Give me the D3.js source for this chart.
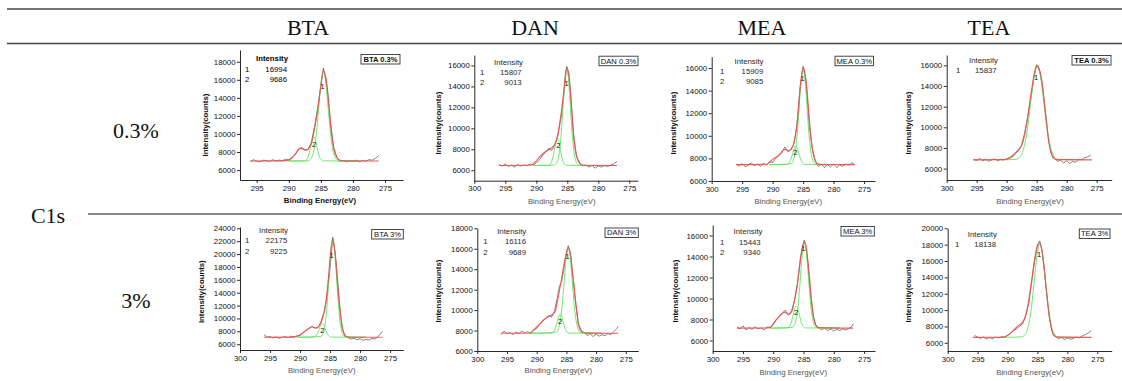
<!DOCTYPE html>
<html>
<head>
<meta charset="utf-8">
<script src="https://cdn.jsdelivr.net/npm/d3@7"></script>
<style>
  body { margin: 0; background: #fff; }
  svg { display: block; }
</style>
</head>
<body>
<div id="chart"></div>
<script>
// table headings
const columns = ['BTA', 'DAN', 'MEA', 'TEA'];
const rows = ['0.3%', '3%'];
const element = 'C1s';

// box label and fitted peak intensities for each panel (row by row)
const panelNames = ['BTA 0.3%', 'DAN 0.3%', 'MEA 0.3%', 'TEA 0.3%', 'BTA 3%', 'DAN 3%', 'MEA 3%', 'TEA 3%'];
const peakIntensity = [[16994, 9686], [15807, 9013], [15909, 9085], [15837], [22175, 9225], [16116, 9689], [15443, 9340], [18138]];

// axis ticks
const xTicks = [300, 295, 290, 285, 280, 275];
const yTicks1 = [6000, 8000, 10000, 12000, 14000, 16000, 18000];
const yTicks2 = [6000, 8000, 10000, 12000, 14000, 16000];
const yTicks3 = [6000, 8000, 10000, 12000, 14000, 16000, 18000, 20000, 22000, 24000];
const yTicks4 = [6000, 8000, 10000, 12000, 14000, 16000, 18000, 20000];

// ---- spectra: [binding energy eV, counts] ----
const btaLowRaw = [[296,6950],[295.5,7150],[295,7000],[294.5,6900],[294,7100],[293.5,7050],[293,6950],[292.5,7150],[292,7000],[291.5,7100],[291,7050],[290.5,7200],[290,7150],[289.5,7400],[289,7700],[288.5,8300],[288,8500],[287.5,8200],[287,8300],[286.5,9000],[286,10800],[285.5,12800],[285,15400],[284.6,17300],[284.3,16200],[284,15100],[283.5,11300],[283,8500],[282.5,7400],[282,6950],[281.5,7050],[281,6900],[280.5,7000],[280,6950],[279.5,7100],[279,6900],[278.5,7050],[278,7000],[277.5,7150],[277,7100],[276.5,7300],[276,7600]];
const btaLowFit = [[296,7000],[291,7020],[290,7100],[289.5,7350],[289,7750],[288.5,8250],[288.2,8400],[287.8,8350],[287.3,8200],[287,8300],[286.5,8900],[286,10500],[285.5,12700],[285,15300],[284.6,17000],[284.2,16200],[283.8,13600],[283.4,10500],[283,8400],[282.5,7400],[282,7080],[281.5,7020],[276,7000]];
const btaLowP1 = [[290,7000],[287.1,7020],[286.6,7210],[286.35,7520],[286.1,8130],[285.85,9180],[285.6,10760],[285.35,12740],[285.1,14780],[284.85,16300],[284.6,16900],[284.35,16300],[284.1,14780],[283.85,12740],[283.6,10760],[283.35,9180],[283.1,8130],[282.85,7520],[282.6,7210],[282.1,7020],[279,7000]];
const btaLowP2 = [[290,7000],[287.6,7015],[287.35,7080],[287.1,7280],[286.85,7760],[286.6,8540],[286.35,9350],[286.1,9700],[285.85,9350],[285.6,8540],[285.35,7760],[285.1,7280],[284.85,7080],[284.6,7015],[279,7000]];

const danLowRaw = [[296,6550],[295.5,6400],[295,6600],[294.5,6350],[294,6500],[293.5,6300],[293,6550],[292.5,6400],[292,6500],[291.5,6450],[291,6600],[290.5,6500],[290,6700],[289.5,7000],[289,7400],[288.5,7700],[288,8100],[287.5,7900],[287,8400],[286.5,9500],[286,11000],[285.5,13500],[285.1,15900],[284.75,15200],[284.5,13500],[284,9400],[283.5,7300],[283,6700],[282.5,6450],[282,6500],[281.5,6300],[281,6450],[280.5,6200],[280,6400],[279.5,6300],[279,6450],[278.5,6350],[278,6500],[277.5,6600],[277,6850]];
const danLowFit = [[296,6450],[291,6470],[290.5,6600],[290,6900],[289.5,7250],[289,7550],[288.5,7800],[288,7950],[287.5,8150],[287,8500],[286.5,9400],[286.2,10600],[285.8,12300],[285.5,14000],[285.1,15800],[284.8,15300],[284.5,13500],[284.2,11000],[283.9,8800],[283.5,7300],[283,6650],[282.5,6480],[282,6450],[277,6450]];
const danLowP1 = [[290.5,6450],[287.1,6480],[286.85,6570],[286.6,6840],[286.35,7470],[286.1,8700],[285.85,10630],[285.6,12950],[285.35,14920],[285.1,15700],[284.85,14920],[284.6,12950],[284.35,10630],[284.1,8700],[283.85,7470],[283.6,6840],[283.35,6570],[283.1,6480],[280,6450]];
const danLowP2 = [[290.5,6450],[288.1,6465],[287.85,6520],[287.6,6710],[287.35,7160],[287.1,7890],[286.85,8640],[286.6,8970],[286.35,8640],[286.1,7890],[285.85,7160],[285.6,6710],[285.35,6520],[285.1,6465],[280,6450]];

const meaLowRaw = [[296,7500],[295.5,7300],[295,7550],[294.5,7250],[294,7400],[293.5,7600],[293,7350],[292.5,7500],[292,7300],[291.5,7550],[291,7400],[290.5,7700],[290,7650],[289.5,8000],[289,8250],[288.5,8500],[288,9000],[287.5,8600],[287,8800],[286.5,9300],[286,11000],[285.5,14300],[285,16150],[284.5,14800],[284,11000],[283.5,8900],[283,7800],[282.5,7300],[282,7500],[281.5,7200],[281,7450],[280.5,7250],[280,7500],[279.5,7200],[279,7400],[278.5,7300],[278,7500],[277.5,7400],[277,7600],[276.7,7550]];
const meaLowFit = [[296,7450],[291,7480],[290.4,7700],[289.8,8000],[289.3,8150],[288.7,8450],[288.2,8750],[287.8,8800],[287.4,8650],[287,8800],[286.6,9200],[286.3,9900],[286,11000],[285.7,12800],[285.4,14700],[285,16000],[284.7,15600],[284.4,14300],[284.1,12300],[283.8,10300],[283.5,8900],[283.1,7900],[282.7,7550],[282.2,7460],[276.5,7450]];
const meaLowP1 = [[290.5,7450],[287,7510],[286.75,7640],[286.5,7980],[286.25,8680],[286,9920],[285.75,11680],[285.5,13660],[285.25,15270],[285,15900],[284.75,15270],[284.5,13660],[284.25,11680],[284,9920],[283.75,8680],[283.5,7980],[283.25,7640],[283,7510],[280,7450]];
const meaLowP2 = [[290.5,7450],[287.7,7470],[287.45,7520],[287.2,7670],[286.95,7990],[286.7,8450],[286.45,8900],[286.2,9100],[285.95,8900],[285.7,8450],[285.45,7990],[285.2,7670],[284.95,7520],[284.7,7470],[280,7450]];

const teaLowRaw = [[295.5,6900],[295,6800],[294.5,7000],[294,6750],[293.5,6900],[293,6700],[292.5,6850],[292,6950],[291.5,6750],[291,6900],[290.5,6850],[290,6950],[289.5,7100],[289,7300],[288.5,7550],[288,7900],[287.5,8300],[287,9500],[286.5,11000],[286,12800],[285.5,14700],[285,16050],[284.5,15400],[284,13900],[283.5,11300],[283,8700],[282.5,7400],[282,6950],[281.5,6700],[281,6800],[280.5,6550],[280,6750],[279.5,6500],[279,6700],[278.5,6600],[278,6900],[277.5,6850],[277,7050],[276.5,7150],[276,7300]];
const teaLowFit = [[295.6,6850],[290.5,6870],[289.5,7000],[289,7200],[288.5,7500],[288,7800],[287.5,8250],[287,9300],[286.7,10200],[286.3,11800],[285.8,13800],[285.4,15200],[285,16000],[284.6,15700],[284.2,14700],[283.8,12700],[283.4,10600],[283,8600],[282.6,7500],[282.2,7000],[281.6,6870],[275.8,6850]];
const teaLowP1 = [[291,6850],[288.4,6900],[287.9,7070],[287.4,7540],[286.9,8600],[286.4,10440],[285.9,12870],[285.4,15060],[284.9,15950],[284.4,15060],[283.9,12870],[283.4,10440],[282.9,8600],[282.4,7540],[281.9,7070],[281.4,6900],[278,6850]];

const btaHighRaw = [[296,7500],[295.5,7100],[295,7200],[294.5,6950],[294,7150],[293.5,6900],[293,7050],[292.5,7200],[292,7000],[291.5,7250],[291,7150],[290.5,7300],[290,7350],[289.5,7800],[289,8200],[288.5,8400],[288,8750],[287.5,8500],[287,8600],[286.5,9500],[286,11000],[285.5,13500],[285,17800],[284.55,22600],[284.1,19800],[283.7,15500],[283.3,11000],[283,8500],[282.5,7300],[282,7000],[281.5,6800],[281,6900],[280.5,6700],[280,6850],[279.5,6600],[279,6750],[278.5,6650],[278,6900],[277.5,6800],[277,7200],[276.5,7700],[276.3,8000]];
const btaHighFit = [[296,7080],[291,7100],[290.3,7300],[289.6,7700],[289,8100],[288.5,8500],[288.05,8700],[287.6,8550],[287.2,8500],[286.8,8900],[286.4,9600],[286,10900],[285.7,12400],[285.3,16000],[285,19300],[284.55,22400],[284.2,20500],[283.9,17300],[283.6,13600],[283.3,11000],[283,8900],[282.7,7700],[282.3,7200],[281.8,7090],[276.3,7080]];
const btaHighP1 = [[290.5,7080],[286.55,7190],[286.3,7430],[286.05,8030],[285.8,9290],[285.55,11500],[285.3,14640],[285.05,18190],[284.8,21080],[284.55,22200],[284.3,21080],[284.05,18190],[283.8,14640],[283.55,11500],[283.3,9290],[283.05,8030],[282.8,7430],[282.55,7190],[279,7080]];
const btaHighP2 = [[290.5,7080],[287.8,7100],[287.55,7180],[287.3,7370],[287.05,7790],[286.8,8400],[286.55,8990],[286.3,9250],[286.05,8990],[285.8,8400],[285.55,7790],[285.3,7370],[285.05,7180],[284.8,7100],[279,7080]];

const danHighRaw = [[296,7600],[295.5,7950],[295,7700],[294.5,7800],[294,7600],[293.5,7850],[293,7700],[292.5,7950],[292,7750],[291.5,7900],[291,7700],[290.5,8100],[290,8200],[289.5,8600],[289,8900],[288.5,9200],[288,9500],[287.5,9300],[287,9900],[286.5,11300],[286.2,12300],[285.8,12800],[285.5,13800],[285.1,15200],[284.7,16300],[284.3,15300],[283.9,13200],[283.5,11000],[283,8700],[282.5,8000],[282,7800],[281.5,7500],[281,7700],[280.5,7400],[280,7650],[279.5,7450],[279,7600],[278.5,7500],[278,7700],[277.5,7600],[277,7900],[276.5,8200],[276.3,8400]];
const danHighFit = [[296,7730],[291.2,7760],[290.6,8000],[290,8350],[289.4,8700],[288.7,9100],[288,9350],[287.4,9550],[286.9,9850],[286.6,10600],[286.3,11500],[285.8,13100],[285.2,15100],[284.7,16100],[284.3,15500],[284,13800],[283.7,12300],[283.5,11100],[283.2,9600],[283,8700],[282.7,8100],[282.3,7850],[281.8,7750],[276.3,7730]];
const danHighP1 = [[291,7730],[286.7,7840],[286.45,8040],[286.2,8470],[285.95,9280],[285.7,10570],[285.45,12280],[285.2,14120],[284.95,15560],[284.7,16100],[284.45,15560],[284.2,14120],[283.95,12280],[283.7,10570],[283.45,9280],[283.2,8470],[282.95,8040],[282.7,7840],[279,7730]];
const danHighP2 = [[291,7730],[287.55,7750],[287.3,7810],[287.05,7980],[286.8,8340],[286.55,8860],[286.3,9380],[286.05,9600],[285.8,9380],[285.55,8860],[285.3,8340],[285.05,7980],[284.8,7810],[284.55,7750],[279,7730]];

const meaHighRaw = [[296,7300],[295.5,7100],[295,7400],[294.5,7000],[294,7250],[293.5,7050],[293,7300],[292.5,7100],[292,7200],[291.5,7000],[291,7300],[290.5,7250],[290,7600],[289.5,8000],[289,8300],[288.5,8600],[288,8900],[287.5,8400],[287,8800],[286.5,9800],[286,11500],[285.5,13900],[284.9,15550],[284.6,14800],[284.2,13000],[283.8,10200],[283.4,8300],[283,7500],[282.5,7200],[282,7050],[281.5,7150],[281,6950],[280.5,7100],[280,6900],[279.5,7050],[279,6950],[278.5,7100],[278,7000],[277.5,7150],[277,7350],[276.8,7600]];
const meaHighFit = [[296,7180],[290.8,7200],[290.2,7400],[289.6,7900],[289,8300],[288.6,8550],[288.2,8700],[287.8,8600],[287.4,8500],[286.9,8800],[286.5,9800],[286.1,11000],[285.7,12800],[285.3,14600],[284.85,15400],[284.5,14700],[284.2,13100],[283.9,11200],[283.6,9400],[283.3,8100],[283,7500],[282.6,7230],[276.8,7180]];
const meaHighP1 = [[290.5,7180],[286.85,7240],[286.6,7370],[286.35,7700],[286.1,8380],[285.85,9580],[285.6,11290],[285.35,13220],[285.1,14790],[284.85,15400],[284.6,14790],[284.35,13220],[284.1,11290],[283.85,9580],[283.6,8380],[283.35,7700],[283.1,7370],[282.85,7240],[279,7180]];
const meaHighP2 = [[290.5,7180],[287.7,7200],[287.45,7270],[287.2,7470],[286.95,7870],[286.7,8470],[286.45,9050],[286.2,9300],[285.95,9050],[285.7,8470],[285.45,7870],[285.2,7470],[284.95,7270],[284.7,7200],[279,7180]];

const teaHighRaw = [[295.5,6900],[295,6700],[294.5,6550],[294,6700],[293.5,6450],[293,6650],[292.5,6500],[292,6700],[291.5,6600],[291,6750],[290.5,6700],[290,6900],[289.5,7200],[289,7500],[288.5,7700],[288,8000],[287.5,8300],[287,9300],[286.5,10600],[286,13200],[285.5,15900],[285,18000],[284.6,18450],[284.2,17000],[283.8,14500],[283.4,11500],[283,9000],[282.5,7300],[282,6800],[281.5,6500],[281,6650],[280.5,6400],[280,6600],[279.5,6450],[279,6550],[278.5,6700],[278,6600],[277.5,6850],[277,7000],[276.5,7200],[276,7500]];
const teaHighFit = [[295.8,6660],[290.8,6680],[290.1,6860],[289.4,7250],[288.8,7700],[288.2,8100],[287.6,8400],[287.1,9000],[286.8,9800],[286.4,11500],[286,13500],[285.6,15600],[285.15,17500],[284.6,18200],[284.05,16300],[283.8,14600],[283.5,12300],[283.2,10300],[282.9,8600],[282.6,7500],[282.3,6900],[281.8,6700],[276,6660]];
const teaHighP1 = [[291,6660],[287.6,6730],[287.1,6980],[286.6,7820],[286.1,9810],[285.6,13110],[285.1,16580],[284.6,18100],[284.1,16580],[283.6,13110],[283.1,9810],[282.6,7820],[282.1,6980],[281.6,6730],[278,6660]];

// ---- layout of each panel (pixels) ----
const panels = [
  { raw: btaLowRaw, fit: btaLowFit, peaks: [btaLowP1, btaLowP2], box: [240, 403, 180, 50], xDom: [297.6, 272.2], yDom: [4900, 19300], yTicks: yTicks1,
    leg: { hx: 272, hy: 58.5, ix: 245, vx: 287, ry: [69, 79] }, tag: [361, 54.5, 39], yt: [205, 125], xt: [320, 200], pk: [[322.7, 86], [314, 144.5]], bold: true },
  { raw: danLowRaw, fit: danLowFit, peaks: [danLowP1, danLowP2], box: [474.3, 638, 180.7, 55], xDom: [300, 273.6], yDom: [5000, 17000], yTicks: yTicks2,
    leg: { hx: 508.5, hy: 62, ix: 480, vx: 521.7, ry: [72, 82.5] }, tag: [599, 56.2, 39], yt: [438.3, 123], xt: [561.7, 201], pk: [[566.7, 83.3], [558.3, 145]] },
  { raw: meaLowRaw, fit: meaLowFit, peaks: [meaLowP1, meaLowP2], box: [711.7, 875, 181, 56.7], xDom: [300, 273.2], yDom: [6000, 17000], yTicks: yTicks2,
    leg: { hx: 749, hy: 61, ix: 720, vx: 763.3, ry: [71, 81.7] }, tag: [835, 56.2, 38.5], yt: [673.3, 123], xt: [788.3, 201], pk: [[802.7, 78.3], [795.3, 152.3]] },
  { raw: teaLowRaw, fit: teaLowFit, peaks: [teaLowP1], box: [946.7, 1111.7, 180, 55], xDom: [300, 272.5], yDom: [4900, 17000], yTicks: yTicks2,
    leg: { hx: 983.5, hy: 60, ix: 956, vx: 996.7, ry: [70] }, tag: [1072, 55.5, 39], yt: [908.3, 123], xt: [1030, 201], pk: [[1036, 77.7]], tagBold: true },
  { raw: btaHighRaw, fit: btaHighFit, peaks: [btaHighP1, btaHighP2], box: [240, 403.3, 350, 227], xDom: [300, 272.8], yDom: [5100, 24200], yTicks: yTicks3,
    leg: { hx: 273.5, hy: 230.7, ix: 245, vx: 287.3, ry: [240.7, 251.7] }, tag: [371.7, 229.5, 31.6], yt: [201, 291.7], xt: [321.7, 370.3], pk: [[331.7, 255.7], [322.3, 330]] },
  { raw: danHighRaw, fit: danHighFit, peaks: [danHighP1, danHighP2], box: [477.3, 638.3, 351, 228.3], xDom: [300, 272.9], yDom: [6000, 18000], yTicks: yTicks1,
    leg: { hx: 511.7, hy: 231.7, ix: 483.3, vx: 526, ry: [241.7, 252.3] }, tag: [605, 228, 33.3], yt: [438.3, 291], xt: [558.3, 370], pk: [[567.7, 256.7], [560, 321]] },
  { raw: meaHighRaw, fit: meaHighFit, peaks: [meaHighP1, meaHighP2], box: [712.7, 875, 351, 225], xDom: [300, 273.2], yDom: [5000, 17000], yTicks: yTicks2,
    leg: { hx: 748, hy: 231.7, ix: 720, vx: 760.7, ry: [242.3, 252.7] }, tag: [841, 226.5, 33.3], yt: [675, 291], xt: [793.3, 372], pk: [[803.3, 248.3], [796, 312.3]] },
  { raw: teaHighRaw, fit: teaHighFit, peaks: [teaHighP1], box: [947.7, 1111.7, 351, 228.3], xDom: [300, 272.6], yDom: [5000, 20000], yTicks: yTicks4,
    leg: { hx: 982.3, hy: 234, ix: 955, vx: 996, ry: [244.3] }, tag: [1079.3, 229, 30.7], yt: [908.3, 291], xt: [1030, 372], pk: [[1039, 254.3]] }
];

const W = 1122, H = 381;
const sans = '"Liberation Sans", Arial, sans-serif';
const serif = '"Liberation Serif", "Times New Roman", serif';

const svg = d3.select('#chart').append('svg')
  .attr('width', W)
  .attr('height', H)
  .attr('viewBox', [0, 0, W, H]);

svg.append('rect').attr('width', W).attr('height', H).attr('fill', '#fff');

// table rules
const rules = svg.append('g');
rules.append('line').attr('x1', 7).attr('x2', W).attr('y1', 9).attr('y2', 9).attr('stroke', '#444').attr('stroke-width', 1.4);
rules.append('line').attr('x1', 7).attr('x2', W).attr('y1', 43.5).attr('y2', 43.5).attr('stroke', '#444').attr('stroke-width', 1.4);
rules.append('line').attr('x1', 88).attr('x2', W).attr('y1', 214).attr('y2', 214).attr('stroke', '#111').attr('stroke-width', 1);

// column headings
const colX = d3.scalePoint().domain(columns).range([308, 989]);
svg.append('g').selectAll('text')
  .data(columns)
  .join('text')
  .attr('x', d => colX(d))
  .attr('y', 27)
  .attr('text-anchor', 'middle')
  .attr('dominant-baseline', 'central')
  .attr('font-family', serif)
  .attr('font-size', 22)
  .attr('fill', '#111')
  .text(d => d);

// row headings
const rowY = d3.scalePoint().domain(rows).range([130, 300]);
svg.append('g').selectAll('text')
  .data(rows)
  .join('text')
  .attr('x', 136)
  .attr('y', d => rowY(d))
  .attr('text-anchor', 'middle')
  .attr('dominant-baseline', 'central')
  .attr('font-family', serif)
  .attr('font-size', 22)
  .attr('fill', '#111')
  .text(d => d);

svg.append('text')
  .attr('x', 48).attr('y', 215)
  .attr('text-anchor', 'middle')
  .attr('dominant-baseline', 'central')
  .attr('font-family', serif)
  .attr('font-size', 22)
  .attr('fill', '#111')
  .text(element);

// sort by energy so the curves run left to right on a reversed axis
const byEnergy = arr => arr.slice().sort((a, b) => b[0] - a[0]);

panels.forEach((p, i) => {
  const [x0, x1, y0, y1] = p.box;
  const x = d3.scaleLinear().domain(p.xDom).range([x0, x1]);
  const y = d3.scaleLinear().domain(p.yDom).range([y0, y1]);
  const g = svg.append('g').attr('class', 'panel');
  const textCol = p.bold ? '#000' : '#2a2a2a';

  // axes (Origin style: left and bottom only)
  const xAxis = d3.axisBottom(x)
    .tickValues(xTicks.filter(t => t <= p.xDom[0] && t >= p.xDom[1]))
    .tickSize(3).tickSizeOuter(0).tickPadding(2)
    .tickFormat(d3.format('d'));
  const yAxis = d3.axisLeft(y)
    .tickValues(p.yTicks)
    .tickSize(3).tickSizeOuter(0).tickPadding(1.5)
    .tickFormat(d3.format('d'));

  const gx = g.append('g').attr('transform', `translate(0,${y0})`).call(xAxis);
  const gy = g.append('g').attr('transform', `translate(${x0},0)`).call(yAxis);
  [gx, gy].forEach(a => {
    a.selectAll('path, line').attr('stroke', '#111').attr('stroke-width', 0.9);
    a.selectAll('text')
      .attr('font-size', 7.8)
      .attr('font-family', sans)
      .attr('fill', '#111');
  });

  // axis titles
  g.append('text')
    .attr('transform', `translate(${p.yt[0]},${p.yt[1]}) rotate(-90)`)
    .attr('text-anchor', 'middle')
    .attr('dominant-baseline', 'central')
    .attr('font-family', sans)
    .attr('font-size', 7.8)
    .attr('font-weight', 'bold')
    .attr('fill', '#111')
    .text('Intensity(counts)');
  g.append('text')
    .attr('x', p.xt[0]).attr('y', p.xt[1])
    .attr('text-anchor', 'middle')
    .attr('dominant-baseline', 'central')
    .attr('font-family', sans)
    .attr('font-size', 7.8)
    .attr('font-weight', p.bold ? 'bold' : 'normal')
    .attr('fill', p.bold ? '#111' : '#555')
    .text('Binding Energy(eV)');

  // curves
  const smooth = d3.line().x(d => x(d[0])).y(d => y(d[1])).curve(d3.curveMonotoneX);
  const jagged = d3.line().x(d => x(d[0])).y(d => y(d[1]));

  g.append('path')
    .attr('d', jagged(byEnergy(p.raw)))
    .attr('fill', 'none')
    .attr('stroke', '#333')
    .attr('stroke-width', 0.6);

  g.selectAll('path.peak')
    .data(p.peaks)
    .join('path')
    .attr('class', 'peak')
    .attr('d', d => smooth(byEnergy(d)))
    .attr('fill', 'none')
    .attr('stroke', '#5ce65c')
    .attr('stroke-width', 0.9);

  g.append('path')
    .attr('d', smooth(byEnergy(p.fit)))
    .attr('fill', 'none')
    .attr('stroke', '#f44848')
    .attr('stroke-width', 1.1)
    .attr('stroke-opacity', 0.9);

  // peak numbers
  g.selectAll('text.pk')
    .data(p.pk)
    .join('text')
    .attr('class', 'pk')
    .attr('x', d => d[0]).attr('y', d => d[1])
    .attr('text-anchor', 'middle')
    .attr('dominant-baseline', 'central')
    .attr('font-family', sans)
    .attr('font-size', 7.5)
    .attr('fill', '#111')
    .text((d, k) => k + 1);

  // intensity table
  const leg = g.append('g')
    .attr('font-family', sans)
    .attr('font-size', 7.8)
    .attr('fill', textCol);
  leg.append('text')
    .attr('x', p.leg.hx).attr('y', p.leg.hy)
    .attr('text-anchor', 'middle')
    .attr('dominant-baseline', 'central')
    .attr('font-weight', p.bold ? 'bold' : 'normal')
    .text('Intensity');
  peakIntensity[i].forEach((v, k) => {
    leg.append('text')
      .attr('x', p.leg.ix).attr('y', p.leg.ry[k])
      .attr('dominant-baseline', 'central')
      .text(k + 1);
    leg.append('text')
      .attr('x', p.leg.vx).attr('y', p.leg.ry[k])
      .attr('text-anchor', 'end')
      .attr('dominant-baseline', 'central')
      .text(v);
  });

  // sample tag box
  const [tx, ty, tw] = p.tag;
  g.append('rect')
    .attr('x', tx).attr('y', ty)
    .attr('width', tw).attr('height', 9.5)
    .attr('fill', '#fff')
    .attr('stroke', '#333')
    .attr('stroke-width', 0.9);
  g.append('text')
    .attr('x', tx + tw / 2).attr('y', ty + 4.9)
    .attr('text-anchor', 'middle')
    .attr('dominant-baseline', 'central')
    .attr('font-family', sans)
    .attr('font-size', 7.6)
    .attr('font-weight', (p.bold || p.tagBold) ? 'bold' : 'normal')
    .attr('fill', '#111')
    .text(panelNames[i]);
});
</script>
</body>
</html>
